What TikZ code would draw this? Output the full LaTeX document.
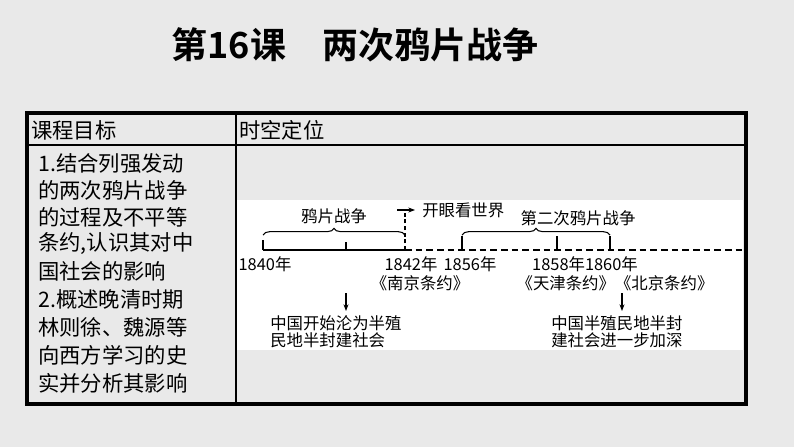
\documentclass[tikz,border=0pt]{standalone}
\usepackage{fontspec}
\setmainfont{Noto Sans CJK SC}
\newfontfamily\cjkb{Noto Sans CJK SC Bold}
\usetikzlibrary{decorations.pathreplacing,arrows.meta}
\begin{document}
\begin{tikzpicture}[x=0.75pt,y=-0.75pt,
  lt/.style={font=\fontsize{16}{20}\selectfont,anchor=west,inner sep=0},
  tl/.style={font=\fontsize{12.3}{14}\selectfont,inner sep=0},
  arr/.style={-{Stealth[length=5pt]},line width=0.8pt}]
\fill[gray!17] (0,0) rectangle (794,447);
\fill[white] (237,200) rectangle (743,350);
\node[font=\cjkb\fontsize{27}{30}\selectfont] (title) at (355,45) {第16课\quad 两次鸦片战争};
% table
\draw[line width=1.5pt] (236,113) -- (236,404);
\draw[line width=1.5pt] (27,145) -- (746,145);
\draw[line width=3pt] (27,113) rectangle (746,404);
\node[font=\fontsize{16}{20}\selectfont,anchor=west,inner sep=0] (h1) at (31,130) {课程目标};
\node[font=\fontsize{16}{20}\selectfont,anchor=west,inner sep=0] (h2) at (239,130) {时空定位};
\node[lt] (l1) at (38,163) {1.结合列强发动};
\node[lt] (l2) at (38,190) {的两次鸦片战争};
\node[lt] (l3) at (38,217) {的过程及不平等};
\node[lt] (l4) at (38,244) {条约,认识其对中};
\node[lt] (l5) at (38,271) {国社会的影响};
\node[lt] (l6) at (38,299) {2.概述晚清时期};
\node[lt] (l7) at (38,327) {林则徐、魏源等};
\node[lt] (l8) at (38,355) {向西方学习的史};
\node[lt] (l9) at (38,383) {实并分析其影响};
% timeline
\coordinate (a) at (263,250); \coordinate (b) at (346,250); \coordinate (c) at (405,250);
\coordinate (d) at (462,250); \coordinate (e) at (557,250); \coordinate (f) at (610,250);
\coordinate (g) at (743,250);
\draw[line width=0.9pt] (a) -- (c);
\draw[line width=0.9pt,dash pattern=on 5pt off 3pt] (c) -- (g);
\draw[line width=0.9pt] (a) -- ++(0,-10) (b) -- ++(0,-8) (d) -- ++(0,-14) (e) -- ++(0,-14) (f) -- ++(0,-14);
\draw[line width=0.9pt,dash pattern=on 3pt off 2pt] (c) -- (405,210);
\coordinate (ar0) at (405,210);
\draw[arr] (ar0) ++(-8,0) -- ++(18,0);
\draw[decorate,decoration={brace,amplitude=5pt},line width=0.8pt] (263,235) -- (405,235);
\draw[decorate,decoration={brace,amplitude=5pt},line width=0.8pt] (462,235) -- (610,235);
\node[tl] (w1) at (334,216) {鸦片战争};
\node[tl] (w2) at (578,218) {第二次鸦片战争};
\node[tl,anchor=west] (k) at (422,210) {开眼看世界};
\node[tl] (y1) at (265,264) {1840年};
\node[tl] (y2) at (411,264) {1842年};
\node[tl] (y3) at (470,264) {1856年};
\node[tl] (y4) at (585,264) {1858年1860年};
\node[tl] (t1) at (420,283) {《南京条约》};
\node[tl] (t2) at (615,283) {《天津条约》《北京条约》};
\coordinate (p1) at (346,293); \coordinate (q1) at (346,311);
\coordinate (p2) at (622,293); \coordinate (q2) at (622,311);
\draw[arr] (p1) -- (q1);
\draw[arr] (p2) -- (q2);
\node[tl,anchor=west] (r1) at (270,323) {中国开始沦为半殖};
\node[tl,anchor=west] (r2) at (270,340) {民地半封建社会};
\node[tl,anchor=west] (s1) at (551,323) {中国半殖民地半封};
\node[tl,anchor=west] (s2) at (551,340) {建社会进一步加深};
\end{tikzpicture}
\end{document}
